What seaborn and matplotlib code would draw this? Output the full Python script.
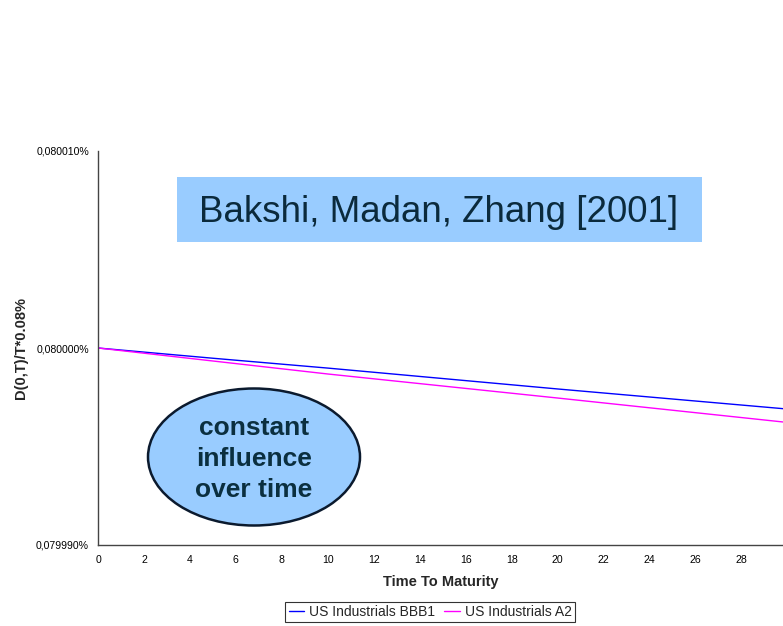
import numpy as np
import pandas as pd
import matplotlib
matplotlib.use("Agg")
import matplotlib.pyplot as plt
import seaborn as sns
from matplotlib.patches import Ellipse, Rectangle
from matplotlib.ticker import FuncFormatter
from matplotlib.lines import Line2D

# Data (values in percent)
maturity = [0, 5, 10, 15, 20, 25, 30]
bbb1 = [0.08000000, 0.07999948, 0.07999898, 0.07999845, 0.07999792, 0.07999741, 0.07999690]
a2 = [0.08000000, 0.07999934, 0.07999868, 0.07999807, 0.07999746, 0.07999684, 0.07999622]
series_names = ["US Industrials BBB1", "US Industrials A2"]
y_ticks = [0.07999, 0.08000, 0.08001]
x_ticks = list(range(0, 30, 2))

df = pd.DataFrame({
    "T": maturity * 2,
    "value": bbb1 + a2,
    "series": [series_names[0]] * len(maturity) + [series_names[1]] * len(maturity),
})

sns.set_style("white")
plt.rcParams["font.family"] = ["Liberation Sans", "DejaVu Sans"]

fig = plt.figure(figsize=(7.83, 6.26), dpi=100)
ax = fig.add_axes([98 / 783, 81 / 626, 685 / 783, 394 / 626])

sns.lineplot(data=df, x="T", y="value", hue="series",
             palette={series_names[0]: "#0000FF", series_names[1]: "#FF00FF"},
             linewidth=1.0, ax=ax, legend=False)

ax.set_xlim(0, 29.8)
ax.set_ylim(0.07999, 0.08001)
ax.set_xticks(x_ticks)
ax.set_yticks(y_ticks)
ax.yaxis.set_major_formatter(FuncFormatter(lambda v, p: f"{v:.6f}%".replace(".", ",")))
ax.tick_params(axis="both", direction="inout", length=5, width=1, labelsize=7.6, colors="black")
ax.tick_params(axis="y", pad=4)
ax.tick_params(axis="x", pad=5)
for s in ["top", "right"]:
    ax.spines[s].set_visible(False)
for s in ["left", "bottom"]:
    ax.spines[s].set_color("#444444")
    ax.spines[s].set_linewidth(1)

ax.set_xlabel("Time To Maturity", fontsize=10.5, fontweight="bold", labelpad=7)
ax.set_ylabel("D(0,T)/T*0.08%", fontsize=10.5, fontweight="bold", labelpad=6)

# Title box
fig.add_artist(Rectangle((177 / 783, 1 - 242 / 626), 525 / 783, 65 / 626,
                         transform=fig.transFigure, facecolor="#99CCFF", edgecolor="none"))
fig.text((177 + 262) / 783, 1 - 212 / 626, "Bakshi, Madan, Zhang [2001]",
         ha="center", va="center", fontsize=26.5, color="#0B2A3C")

# Ellipse annotation
fig.add_artist(Ellipse((254 / 783, 1 - 457 / 626), 212 / 783, 137 / 626,
                       transform=fig.transFigure, facecolor="#99CCFF",
                       edgecolor="#0B1A2E", linewidth=1.8))
fig.text(254 / 783, 1 - 459 / 626, "constant\ninfluence\nover time",
         ha="center", va="center", fontsize=19, fontweight="bold",
         color="#0B2F3F", linespacing=1.38)

# Legend
handles = [Line2D([0], [0], color="#0000FF", lw=1), Line2D([0], [0], color="#FF00FF", lw=1)]
leg = fig.legend(handles, series_names, loc="center", bbox_to_anchor=(430 / 783, 1 - 612 / 626),
                 ncol=2, fontsize=10, frameon=True, fancybox=False, handlelength=1.15,
                 handletextpad=0.3, columnspacing=0.7, borderpad=0.25, borderaxespad=0)
leg.get_frame().set_edgecolor("black")
leg.get_frame().set_linewidth(0.8)

fig.savefig("out.png", dpi=100)
